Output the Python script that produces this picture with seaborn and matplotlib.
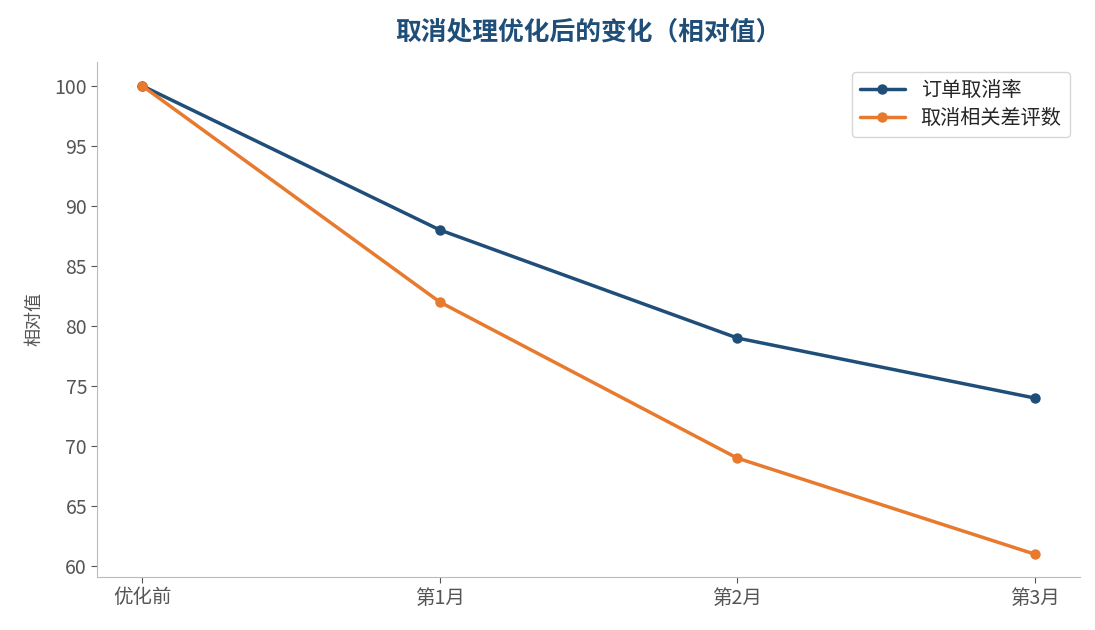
import numpy as np
import pandas as pd
import matplotlib
matplotlib.use('Agg')
import matplotlib.pyplot as plt
import seaborn as sns

# 数据
periods = ['优化前', '第1月', '第2月', '第3月']
cancel_rate = [100, 88, 79, 74]
cancel_reviews = [100, 82, 69, 61]
series_names = ['订单取消率', '取消相关差评数']

sns.set_style('white')
plt.rcParams['font.family'] = ['Noto Sans CJK SC', 'DejaVu Sans']
plt.rcParams['axes.unicode_minus'] = False

df = pd.DataFrame({
    'period': periods * 2,
    'x': list(range(len(periods))) * 2,
    'value': cancel_rate + cancel_reviews,
    'series': [series_names[0]] * 4 + [series_names[1]] * 4,
})

colors = ['#1f4e79', '#e87a2e']

fig, ax = plt.subplots(figsize=(10.95, 6.3), dpi=100)
sns.lineplot(data=df, x='x', y='value', hue='series', palette=colors,
             marker='o', markersize=7.5, markeredgewidth=0, linewidth=2.5, ax=ax)

ax.set_xticks(range(len(periods)))
ax.set_xticklabels(periods)
ax.set_xlim(-0.15, 3.15)
ax.set_ylim(59.1, 102)
ax.set_yticks(np.arange(60, 101, 5))
ax.set_xlabel('')
ax.set_ylabel('相对值', fontsize=13, color='#555555', labelpad=8)
ax.set_title('取消处理优化后的变化（相对值）', fontsize=18.5, fontweight='bold',
             color='#1f4e79', pad=16)

sns.despine(ax=ax)
for s in ['left', 'bottom']:
    ax.spines[s].set_color('#bbbbbb')
ax.tick_params(axis='both', colors='#555555', labelsize=14, length=4, direction='out',
               bottom=True, left=True)

leg = ax.legend(loc='upper right', fontsize=14.5, frameon=True, title=None,
                handlelength=2.2, borderpad=0.4, labelspacing=0.35)
leg.get_frame().set_edgecolor('#cccccc')

fig.subplots_adjust(left=0.089, right=0.986, top=0.902, bottom=0.084)
fig.savefig('out.png', dpi=100)
